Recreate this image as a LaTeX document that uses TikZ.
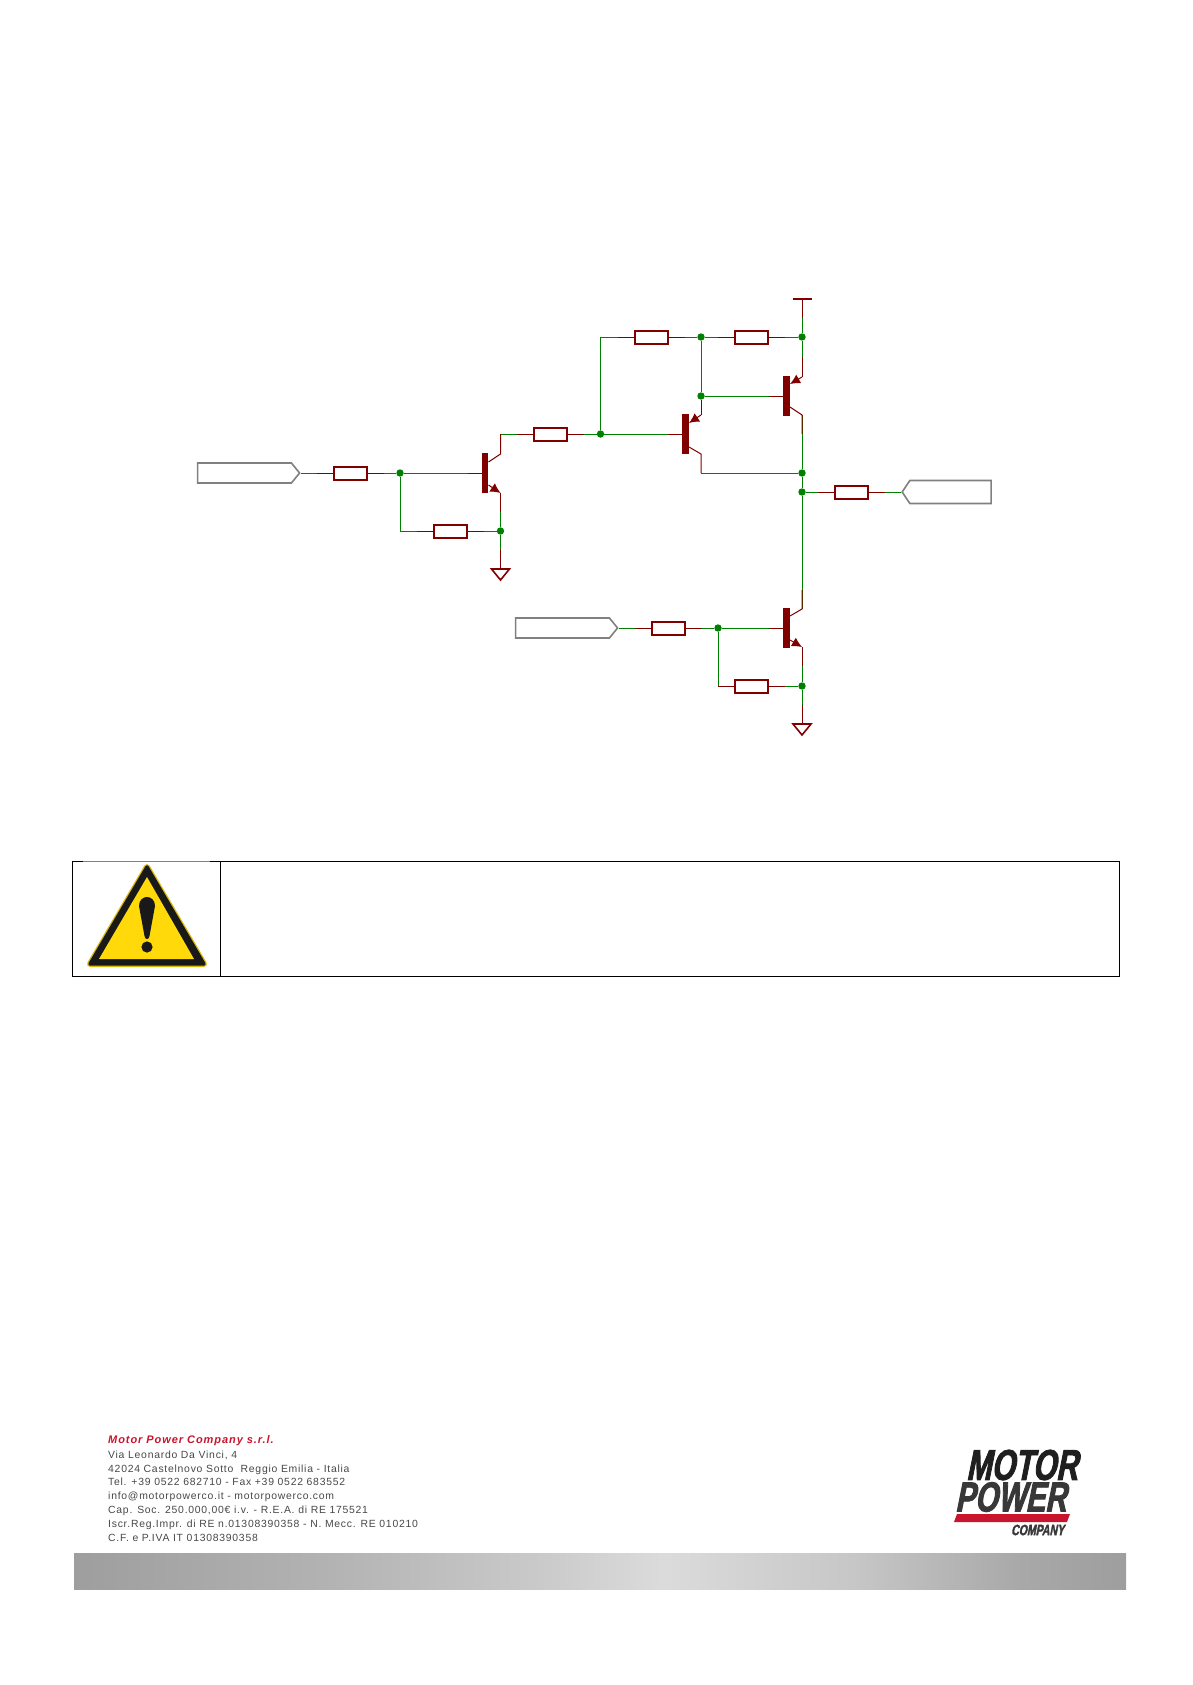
\documentclass[tikz,border=0pt]{standalone}
\usepackage{fontspec}
\usetikzlibrary{positioning,arrows.meta,shapes.symbols}
\setmainfont{Liberation Sans}
\newfontfamily\logofont[FakeSlant=0.2,FakeStretch=0.7,FakeBold=2]{Liberation Sans}
\definecolor{netgreen}{RGB}{0,128,0}
\definecolor{pinred}{RGB}{128,0,0}
\definecolor{portgray}{RGB}{128,128,128}
\definecolor{signyellow}{RGB}{255,217,10}
\definecolor{logored}{RGB}{200,20,45}
\pgfdeclarehorizontalshading{metal}{100bp}{
  color(0bp)=(black!38); color(25bp)=(black!38); color(37bp)=(black!30);
  color(47bp)=(black!21); color(53bp)=(black!14); color(62bp)=(black!22);
  color(70bp)=(black!34); color(75bp)=(black!38); color(100bp)=(black!38)}

\begin{document}
\begin{tikzpicture}[x=1pt,y=-1pt,on grid,
  wire/.style={draw=netgreen,line width=0.9pt},
  pin/.style={draw=pinred,line width=1pt,line join=miter},
  res/.style={draw=pinred,fill=white,line width=2pt,minimum width=33pt,minimum height=13pt,inner sep=0pt},
  junct/.style={circle,fill=netgreen,minimum size=7.4pt,inner sep=0pt},
  tbar/.style={fill=pinred,minimum width=6.6pt,minimum height=40pt,inner sep=0pt},
  portbox/.style={signal,draw=portgray,fill=white,line width=1.6pt,inner sep=0pt},
  arr/.style={-{Latex[length=10pt,width=10pt]}},
  cell/.style={draw=black,line width=0.9pt,minimum height=115pt,inner sep=0pt},
  foot/.style={anchor=north west,align=left,text=black!72,font=\fontsize{10.4}{13.85}\selectfont\addfontfeatures{LetterSpace=7.2}},
  logotext/.style={anchor=west,inner sep=0pt}]
\useasboundingbox (0,0) rectangle (1192,1685);

\node[tbar] (t1) at (485,473) {};
\node[junct, left=85pt of t1] (j1) {};
\node[res, left=50pt of j1] (r1) {};
\node[portbox, signal to=east, signal pointer angle=102, minimum width=102pt, minimum height=20pt, left=105.5pt of r1] (inA) {};
\node[res, below right=58pt and 50.5pt of j1] (r2) {};
\node[junct, right=50pt of r2] (j2) {};
\coordinate[below=38pt of j2] (g1);
\coordinate[above right=19pt and 15.5pt of t1] (t1c);
\coordinate[below right=20pt and 15.5pt of t1] (t1e);

\node[res, above right=39pt and 65.5pt of t1] (r3) {};
\node[junct, right=50pt of r3] (j3) {};
\node[tbar] (t2) at (685.5,434) {};
\coordinate[above right=19pt and 15.5pt of t2] (t2e);
\coordinate[below right=20pt and 15.5pt of t2] (t2c);
\node[res, above right=97pt and 50.5pt of j3] (r4) {};
\node[junct, right=50pt of r4] (j4) {};
\node[res, right=50.5pt of j4] (r5) {};
\node[junct, right=50.5pt of r5] (j5) {};
\coordinate[above=38pt of j5] (vcc);
\node[junct, below=59pt of j4] (j6) {};
\node[tbar, right=85.5pt of j6] (t3) {};
\coordinate[above right=19pt and 15.5pt of t3] (t3e);
\coordinate[below right=19pt and 15.5pt of t3] (t3c);

\node[junct, below=136pt of j5] (j7) {};
\node[junct, below=19pt of j7] (j8) {};
\node[res, right=49.5pt of j8] (r6) {};
\node[portbox, signal to=west, signal pointer angle=112, minimum width=89pt, minimum height=23pt, right=99pt of r6] (outA) {};

\node[tbar, below=232pt of t3] (t4) {};
\node[junct, left=68.5pt of t4] (j9) {};
\node[res, left=50pt of j9] (r7) {};
\node[portbox, signal to=east, signal pointer angle=102, minimum width=102pt, minimum height=20pt, left=105.5pt of r7] (inB) {};
\node[res, below right=58pt and 33.5pt of j9] (r8) {};
\node[junct, right=50.5pt of r8] (j10) {};
\coordinate[below=38pt of j10] (g2);
\coordinate[above right=19pt and 15.5pt of t4] (t4c);
\coordinate[below right=19pt and 15.5pt of t4] (t4e);

\draw[wire] (inA.east) -- (r1.west) (r1.east) -- (j1) -- (t1.west)
  (j1) |- (r2.west) (r2.east) -- (j2) (t1e) -- (j2) -- (g1)
  (t1c|-r3.west) -- (r3.west) (r3.east) -- (j3) -- (t2.west)
  (j3) |- (r4.west) (r4.east) -- (j4) -- (r5.west) (r5.east) -- (j5) -- (vcc)
  (j4) -- (j6) -- (t3.west) (j5) -- (t3e)
  (t3c) -- (j7) -- (j8) -- (t4c) (j8) -- (r6.west) (r6.east) -- (outA.west)
  (t2c|-j7) -- (j7)
  (inB.east) -- (r7.west) (r7.east) -- (j9) -- (t4.west)
  (j9) |- (r8.west) (r8.east) -- (j10) -- (g2) (t4e) -- (j10);

\draw[pin] (r1.west) -- +(-16,0) (r1.east) -- +(16,0) (r2.west) -- +(-16,0) (r2.east) -- +(16,0)
  (r3.west) -- +(-16,0) (r3.east) -- +(16,0) (r4.west) -- +(-16,0) (r4.east) -- +(16,0)
  (r5.west) -- +(-16,0) (r5.east) -- +(16,0) (r6.west) -- +(-16,0) (r6.east) -- +(16,0)
  (r7.west) -- +(-16,0) (r7.east) -- +(16,0) (r8.west) -- +(-16,0) (r8.east) -- +(16,0)
  (t1.west) -- +(-14,0) (t2.west) -- +(-14,0) (t3.west) -- +(-14,0) (t4.west) -- +(-14,0);

\draw[pin] ([yshift=11pt]t1.east) -- (t1c) -- +(0,-20);
\draw[pin] ([yshift=-13pt]t2.east) -- (t2c) -- +(0,19);
\draw[pin] ([yshift=-11pt]t3.east) -- (t3c) -- +(0,19);
\draw[pin] ([yshift=12pt]t4.east) -- (t4c) -- +(0,-19);

\draw[pin] (t1e) -- +(0,19) (t4e) -- +(0,19) (t3e) -- +(0,-20);
\draw[pin] (j6) -- (t2e);
\draw[pin] (g1) -- +(0,-19) (g2) -- +(0,-19) (vcc) -- +(0,19);
\draw[pin,arr] ([yshift=-12pt]t1.east) -- (t1e);
\draw[pin,arr] ([yshift=-12pt]t4.east) -- (t4e);
\draw[pin,arr] (t2e) -- ([yshift=11pt]t2.east);
\draw[pin,arr] (t3e) -- ([yshift=12pt]t3.east);

\draw[pin,line width=1.6pt] (g1) +(-9,0) -- +(9,0) -- +(0,11) -- cycle;
\draw[pin,line width=1.6pt] (g2) +(-9,0) -- +(9,0) -- +(0,11) -- cycle;
\draw[pin,line width=1.6pt] (vcc) +(-9.5,0) -- +(9.5,0);

\node[cell, minimum width=148pt] (warnbox) at (146,918.5) {};
\node[cell, minimum width=899pt, right=523.5pt of warnbox] (notebox) {};
\draw[portgray,line width=1pt] (83,861) -- (210,861);
\filldraw[draw=signyellow!85!black,fill=black,line width=6pt,line join=round] (147,867) -- (90,964) -- (204,964) -- cycle;
\filldraw[draw=black!90,fill=black!90,line width=3.4pt,line join=round] (147,867) -- (90,964) -- (204,964) -- cycle;
\fill[signyellow] (147,877) -- (99,959) -- (194,959) -- cycle;
\fill[black!90] (139,906) .. controls (139,894) and (155,894) .. (155,906) -- (149.5,936) .. controls (149,940) and (145,940) .. (144.5,936) -- cycle;
\fill[black!90] (147,947) circle (5.6);

\node[anchor=west,inner sep=0pt,text=logored,font=\fontsize{11}{13}\selectfont\bfseries\itshape\addfontfeatures{LetterSpace=8.5}] (company) at (108,1441) {Motor Power Company s.r.l.};
\node[foot,inner sep=0pt] (address) at (108,1450.5) {Via Leonardo Da Vinci, 4\\
42024 Castelnovo Sotto\ \ Reggio Emilia - Italia\\
Tel. +39 0522 682710 - Fax +39 0522 683552\\
info@motorpowerco.it - motorpowerco.com\\
Cap. Soc. 250.000,00€ i.v. - R.E.A. di RE 175521\\
Iscr.Reg.Impr. di RE n.01308390358 - N. Mecc. RE 010210\\
C.F. e P.IVA IT 01308390358};

\node[logotext,text=black!88,font=\logofont\bfseries\fontsize{43}{43}\selectfont] (logoa) at (966,1465) {MOTOR};
\node[logotext,text=black!78,font=\logofont\bfseries\fontsize{42}{42}\selectfont] (logob) at (955,1497) {POWER};
\fill[logored] (957,1514) -- (1070,1514) -- (1067,1522) -- (954,1522) -- cycle;
\node[logotext,text=black!78,font=\logofont\bfseries\fontsize{15}{15}\selectfont] (logoc) at (1011,1530) {COMPANY};

\node[shading=metal,minimum width=1052pt,minimum height=36pt,inner sep=0pt] (footbar) at (600,1571) {};
\end{tikzpicture}
\end{document}
